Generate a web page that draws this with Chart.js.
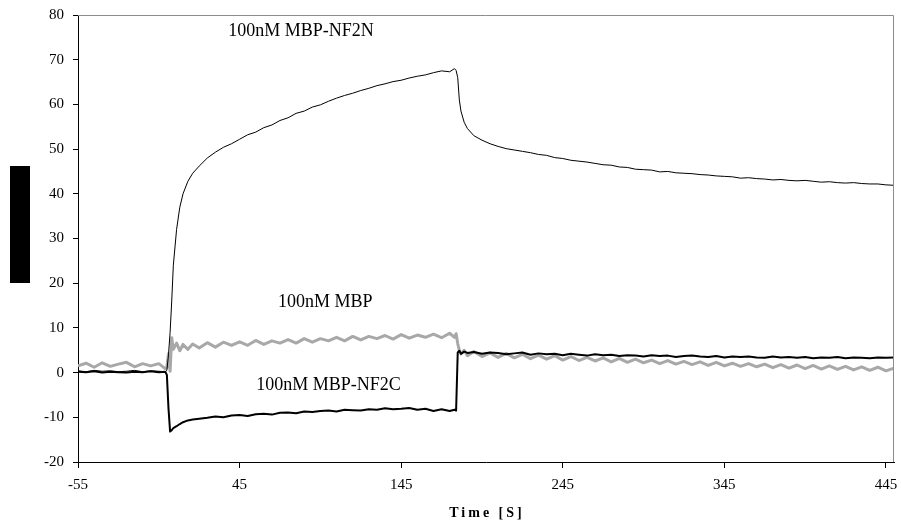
<!DOCTYPE html>
<html lang="en">
<head>
<meta charset="UTF-8">
<title>Binding response</title>
<script src="https://cdn.jsdelivr.net/npm/chart.js"></script>
<style>
  body { margin: 0; background: #fff; }
</style>
</head>
<body>
<canvas id="sprChart" width="901" height="527"></canvas>
<script>
// time axis (seconds), shared by all three traces
const times = [
  -55, -50, -45, -40, -35, -30, -25, -20, -15, -10, -5, -1,
  0, 1, 2, 3, 4, 6, 8, 10, 13, 16,
  20, 25, 30, 35, 40, 45, 50, 55, 60, 65, 70, 75, 80, 85, 90, 95,
  100, 105, 110, 115, 120, 125, 130, 135, 140, 145, 150, 155, 160, 165, 170, 175,
  178, 179,
  180, 181, 182, 184, 186,
  190, 195, 200, 205, 210, 215, 220, 225, 230, 235,
  240, 245, 250, 255, 260, 265, 270, 275, 280, 285,
  290, 295, 300, 305, 310, 315, 320, 325, 330, 335,
  340, 345, 350, 355, 360, 365, 370, 375, 380, 385,
  390, 395, 400, 405, 410, 415, 420, 425, 430, 435,
  440, 445, 450
];

const nf2n = [
  0.4, 0.2, 0.5, 0.3, 0.4, 0.2, 0.3, 0.5, 0.2, 0.4, 0.3, 0.2,
  0.5, 4, 9, 16, 24, 32, 37, 40, 42.8, 44.6,
  46.2, 48, 49.3, 50.4, 51.2, 52.2, 53.2, 53.8, 54.8, 55.4, 56.4, 57, 58, 58.5, 59.4, 59.9,
  60.7, 61.4, 62, 62.5, 63.1, 63.6, 64.2, 64.6, 65.1, 65.4, 65.9, 66.3, 66.6, 67.1, 67.5, 67.3,
  68, 67.6,
  66, 61, 58.5, 56, 54.6,
  53, 52, 51.2, 50.6, 50.1, 49.8, 49.5, 49.2, 48.8, 48.6,
  48.1, 47.9, 47.5, 47.3, 47.1, 46.8, 46.5, 46.4, 46, 45.9,
  45.5, 45.4, 45.3, 44.9, 45, 44.7, 44.6, 44.5, 44.3, 44.2,
  44, 43.9, 43.8, 43.5, 43.6, 43.4, 43.3, 43.1, 43.2, 43,
  42.9, 43, 42.8, 42.6, 42.7, 42.5, 42.4, 42.5, 42.3, 42.2,
  42.2, 42, 41.9
];

const nf2c = [
  0.2, 0.1, 0.3, 0, 0.2, 0.1, 0, 0.2, 0.1, 0.3, 0.1, 0.2,
  -0.5, -8, -13.2, -12.9, -12.4, -12, -11.5, -11.1, -10.7, -10.5,
  -10.3, -10.1, -9.8, -10, -9.6, -9.5, -9.7, -9.3, -9.2, -9.4, -9, -8.9, -9.1, -8.7, -8.8, -8.6,
  -8.5, -8.7, -8.3, -8.4, -8.5, -8.2, -8.3, -8, -8.2, -8.1, -7.9, -8.3, -8.1, -8.6, -8.2, -8.6,
  -8.3, -8.5,
  4.5, 4.9, 4.2, 4.7, 4.4,
  4.6, 4.2, 4.5, 4.4, 4.1, 4.3, 4.5, 4.0, 4.3, 4.1,
  4.2, 3.9, 4.2, 4.0, 3.8, 4.1, 3.9, 4.0, 3.7, 3.9,
  3.8, 3.6, 3.9, 3.7, 3.8, 3.5, 3.7, 3.8, 3.6, 3.5,
  3.7, 3.4, 3.6, 3.5, 3.6, 3.4, 3.3, 3.6, 3.4, 3.5,
  3.3, 3.5, 3.2, 3.4, 3.3, 3.5, 3.2, 3.4, 3.3, 3.2,
  3.4, 3.3, 3.4
];

const mbp = [
  1.5, 2.1, 1.2, 2.2, 1.4, 1.9, 2.3, 1.3, 2.0, 1.5, 2.0, 0.9,
  1.2, 4.2, 0.3, 7.8, 5.2, 6.6, 4.9, 6.3, 5.2, 6.4,
  5.5, 6.7, 5.7, 6.8, 6.1, 6.9, 6.1, 7.2, 6.3, 7.1, 6.6, 7.4, 6.6, 7.6, 6.8, 7.6,
  7.1, 7.9, 7.1, 8.1, 7.3, 8.1, 7.6, 8.3, 7.5, 8.5, 7.7, 8.4, 7.9, 8.6, 7.8, 8.8,
  7.9, 8.7,
  6.5, 5, 4.2, 5.0, 3.8,
  4.7, 3.6, 4.4, 3.4, 4.3, 3.3, 4.1, 3.1, 3.9, 3.0,
  3.8, 2.8, 3.6, 2.7, 3.4, 2.6, 3.3, 2.4, 3.2, 2.3,
  3.0, 2.2, 2.8, 2.0, 2.7, 1.9, 2.5, 1.8, 2.4, 1.6,
  2.3, 1.5, 2.1, 1.4, 2.0, 1.3, 1.9, 1.1, 1.8, 1.0,
  1.7, 0.9, 1.6, 0.8, 1.5, 0.7, 1.4, 0.6, 1.3, 0.5,
  1.2, 0.4, 1.0
];

const xTicks = [-55, 45, 145, 245, 345, 445];
const seriesNames = ["100nM MBP-NF2N", "100nM MBP-NF2C", "100nM MBP"];
const xTitle = "Time [S]";

const toPoints = ys => ys.map((y, i) => ({ x: times[i], y: y }));
const serif = "'Liberation Serif', 'Times New Roman', serif";

// labels written next to each trace, in data units
const tags = [
  { text: seriesNames[0], x: 83, y: 76.4 },
  { text: seriesNames[2], x: 98, y: 15.8 },
  { text: seriesNames[1], x: 100, y: -2.8 }
];

const decorations = {
  id: "decorations",
  afterDraw(chart) {
    const ctx = chart.ctx;
    const area = chart.chartArea;
    const xs = chart.scales.x, ys = chart.scales.y;
    ctx.save();
    // grey frame on top and right
    ctx.strokeStyle = "#8c8c8c";
    ctx.lineWidth = 1;
    ctx.beginPath();
    ctx.moveTo(area.left, area.top + 0.5);
    ctx.lineTo(area.right - 0.5, area.top + 0.5);
    ctx.lineTo(area.right - 0.5, area.bottom);
    ctx.stroke();

    // blacked-out y axis title
    ctx.fillStyle = "#000";
    ctx.fillRect(10, 166, 20, 117);

    ctx.font = "18px " + serif;
    ctx.textAlign = "center";
    ctx.textBaseline = "middle";
    tags.forEach(t => {
      ctx.fillText(t.text, xs.getPixelForValue(t.x), ys.getPixelForValue(t.y));
    });

    ctx.font = "bold 14px " + serif;
    ctx.letterSpacing = "3px";
    ctx.fillText(xTitle, (area.left + area.right) / 2 + 1, 513);
    ctx.restore();
  }
};

new Chart(document.getElementById("sprChart"), {
  type: "line",
  data: {
    datasets: [
      { label: seriesNames[0], data: toPoints(nf2n), borderColor: "#000", borderWidth: 1, order: 1 },
      { label: seriesNames[1], data: toPoints(nf2c), borderColor: "#000", borderWidth: 2, order: 2 },
      { label: seriesNames[2], data: toPoints(mbp), borderColor: "#a8a8a8", borderWidth: 3, order: 3 }
    ]
  },
  options: {
    responsive: false,
    animation: false,
    devicePixelRatio: 1,
    layout: { padding: { top: 15, right: 7, left: 0, bottom: 0 } },
    elements: {
      point: { radius: 0 },
      line: { tension: 0, fill: false, borderJoinStyle: "round" }
    },
    plugins: {
      legend: { display: false },
      tooltip: { enabled: false }
    },
    scales: {
      x: {
        type: "linear",
        min: -55,
        max: 450,
        afterBuildTicks: s => { s.ticks = xTicks.map(v => ({ value: v })); },
        afterFit: s => { s.height = 65; s.paddingLeft = 0; s.paddingRight = 0; },
        grid: { drawOnChartArea: false, drawTicks: true, tickLength: 6, color: "#000" },
        border: { color: "#000", width: 1 },
        ticks: { color: "#000", font: { family: serif, size: 15 }, padding: 8, maxRotation: 0, autoSkip: false }
      },
      y: {
        min: -20,
        max: 80,
        afterFit: s => { s.width = 78; s.paddingTop = 0; s.paddingBottom = 0; },
        grid: { drawOnChartArea: false, drawTicks: true, tickLength: 5, color: "#000" },
        border: { color: "#000", width: 1 },
        ticks: { stepSize: 10, color: "#000", font: { family: serif, size: 15 }, padding: 9 }
      }
    }
  },
  plugins: [decorations]
});
</script>
</body>
</html>
